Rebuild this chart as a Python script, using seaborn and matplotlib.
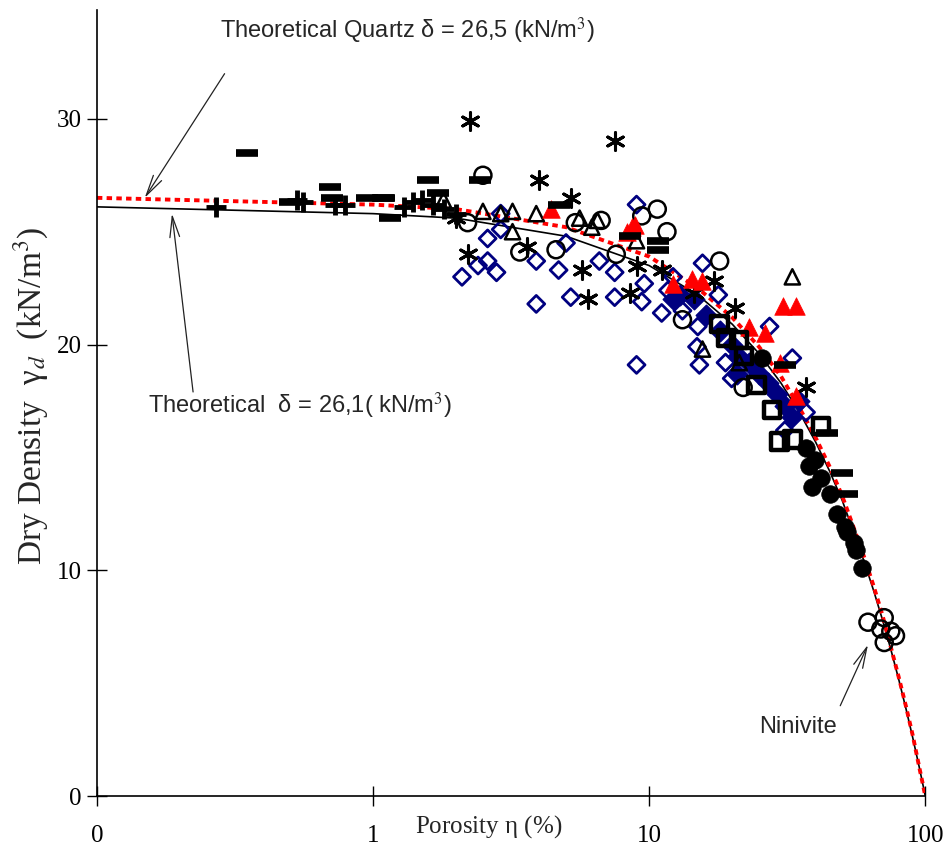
import numpy as np
import pandas as pd
import matplotlib
matplotlib.use("Agg")
import matplotlib.pyplot as plt
import seaborn as sns

# ---- data (porosity %, dry density kN/m3) ----
plus_n = [0.27, 0.53, 0.56, 0.73, 0.79, 1.3, 1.4, 1.5, 1.65, 1.8, 2.0]
plus_y = [26.1, 26.4, 26.3, 26.2, 26.2, 26.1, 26.3, 26.4, 26.2, 26.0, 25.8]

dash_n = [0.35, 0.5, 0.70, 0.71, 0.95, 1.09, 1.1, 1.15, 1.58, 1.72, 2.45, 4.7, 8.5, 10.8, 10.8, 31, 44, 50, 52]
dash_y = [28.5, 26.3, 27.0, 26.5, 26.5, 26.5, 26.5, 25.6, 27.3, 26.7, 27.3, 26.2, 24.8, 24.6, 24.2, 19.1, 16.1, 14.3, 13.4]

star_n = [2.0, 2.2, 2.25, 3.6, 4.0, 5.2, 5.7, 6.0, 7.5, 8.5, 9.0, 11.1, 14.5, 17.1, 20.4, 37]
star_y = [25.6, 24.0, 29.9, 24.3, 27.3, 26.5, 23.3, 22.0, 29.0, 22.3, 23.5, 23.3, 22.3, 22.8, 21.6, 18.1]

tri_n = [1.8, 2.5, 2.9, 3.2, 3.2, 3.9, 5.6, 6.2, 6.5, 9.0, 15.6, 21.2, 33]
tri_y = [26.4, 25.9, 25.8, 25.9, 25.0, 25.8, 25.6, 25.2, 25.5, 24.6, 19.8, 19.2, 23.0]

circ_n = [2.2, 2.5, 3.4, 4.6, 5.4, 6.7, 7.6, 9.4, 10.7, 11.6, 13.2, 18.0, 21.9, 62, 69, 71, 71, 75, 78]
circ_y = [25.4, 27.5, 24.1, 24.2, 25.4, 25.5, 24.0, 25.7, 26.0, 25.0, 21.1, 23.7, 18.1, 7.7, 7.4, 7.9, 6.8, 7.3, 7.1]

diam_n = [2.1, 2.4, 2.6, 2.6, 2.8, 2.9, 2.9, 3.9, 3.9, 4.7, 5.0, 5.2, 6.6, 7.5, 7.5, 9.0, 9.0, 9.4, 9.6,
          11.1, 11.7, 12.2, 13.2, 14.9, 15.0, 15.2, 15.6, 17.8, 18.9, 19.9, 27.3, 31, 33, 37]
diam_y = [23.0, 23.5, 23.7, 24.7, 23.2, 25.1, 25.8, 23.7, 21.8, 23.3, 24.5, 22.1, 23.7, 23.2, 22.1, 26.2, 19.1, 21.9, 22.7,
          21.4, 22.4, 23.0, 21.5, 19.9, 20.8, 19.1, 23.6, 22.2, 19.2, 18.5, 20.8, 16.2, 19.4, 17.0]

fdiam_n = [12.2, 12.9, 14.5, 16, 18, 20, 20.8, 21, 23, 25, 27, 29, 31, 33, 35]
fdiam_y = [22.0, 22.2, 22.0, 21.3, 20.6, 20.0, 18.7, 19.5, 19.2, 18.7, 18.3, 17.8, 17.3, 16.8, 17.5]

red_n = [4.4, 8.3, 8.7, 8.9, 12.2, 14.3, 15.5, 22.9, 26.3, 29.7, 30.5, 34, 34]
red_y = [26.0, 25.0, 25.2, 25.3, 22.7, 22.9, 22.8, 20.8, 20.5, 19.2, 21.7, 21.7, 17.7]

sq_n = [18, 19, 21.2, 22, 24.5, 27.9, 29.6, 33, 42]
sq_y = [20.9, 20.3, 20.2, 19.5, 18.2, 17.1, 15.7, 15.8, 16.4]

fcirc_n = [25.7, 37, 38, 39, 40, 42, 45, 48, 51, 52, 55, 56, 59]
fcirc_y = [19.4, 15.4, 14.6, 13.7, 14.9, 14.1, 13.4, 12.5, 11.9, 11.7, 11.2, 10.9, 10.1]

# theoretical lines
theo_n = [0.1, 1, 2, 5, 10, 15, 20, 25, 30, 35, 40, 45, 50, 55, 60, 65, 70, 75, 80, 85, 90, 95, 100]
quartz_y = [26.5, 26.2, 26.0, 25.2, 23.9, 22.5, 21.2, 19.9, 18.6, 17.2, 15.9, 14.6, 13.3, 11.9, 10.6, 9.3, 8.0, 6.6, 5.3, 4.0, 2.7, 1.3, 0]
theo_y = [26.1, 25.8, 25.6, 24.8, 23.5, 22.2, 20.9, 19.6, 18.3, 17.0, 15.7, 14.4, 13.1, 11.7, 10.4, 9.1, 7.8, 6.5, 5.2, 3.9, 2.6, 1.3, 0]

x_ticks = [0.1, 1, 10, 100]
x_ticklabels = ["0", "1", "10", "100"]
y_ticks = [0, 10, 20, 30]

# ---- plot ----
sns.set_style("ticks")
plt.rcParams['font.family'] = ['Liberation Serif', 'DejaVu Serif']
plt.rcParams['mathtext.fontset'] = 'stix'

fig = plt.figure(figsize=(9.5, 8.52), dpi=100)
ax = fig.add_axes([0.102, 0.0657, 0.872, 0.922])

sns.lineplot(x=theo_n, y=theo_y, ax=ax, color="black", lw=1.2, estimator=None, sort=False, zorder=1)
sns.lineplot(x=theo_n, y=quartz_y, ax=ax, color="red", lw=2.8,
             linestyle=(0, (1.4, 1.1)), estimator=None, sort=False, zorder=2)

navy = "#000080"
sns.scatterplot(x=diam_n, y=diam_y, ax=ax, marker="D", s=75, color=navy,
                facecolors="none", edgecolor=navy, linewidth=2, zorder=3)
sns.scatterplot(x=fdiam_n, y=fdiam_y, ax=ax, marker="D", s=110, color=navy,
                edgecolor=navy, linewidth=1, zorder=3)
sns.scatterplot(x=star_n, y=star_y, ax=ax, marker=(6, 2, 0), s=160, color="black",
                edgecolor="black", linewidth=2.2, zorder=4)
sns.scatterplot(x=tri_n, y=tri_y, ax=ax, marker="^", s=120, color="black",
                facecolors="none", edgecolor="black", linewidth=1.8, zorder=4)
sns.scatterplot(x=circ_n, y=circ_y, ax=ax, marker="o", s=150, color="black",
                facecolors="none", edgecolor="black", linewidth=1.8, zorder=4)
sns.scatterplot(x=red_n, y=red_y, ax=ax, marker="^", s=160, color="red",
                edgecolor="red", linewidth=0.5, zorder=5)
sns.scatterplot(x=sq_n, y=sq_y, ax=ax, marker="s", s=140, color="black",
                facecolors="none", edgecolor="black", linewidth=3.2, zorder=5)
sns.scatterplot(x=fcirc_n, y=fcirc_y, ax=ax, marker="o", s=160, color="black",
                edgecolor="black", linewidth=0.5, zorder=5)
sns.scatterplot(x=plus_n, y=plus_y, ax=ax, marker="+", s=220, color="black",
                edgecolor="black", linewidth=3.5, zorder=6)
sns.scatterplot(x=dash_n, y=dash_y, ax=ax, marker="_", s=260, color="black",
                edgecolor="black", linewidth=5.5, zorder=6)

ax.set_xscale("log")
ax.set_xlim(0.1, 100)
ax.set_ylim(0, 34.8)
ax.set_xticks(x_ticks)
ax.set_xticklabels(x_ticklabels)
ax.minorticks_off()
ax.set_yticks(y_ticks)
ax.tick_params(axis="both", direction="inout", length=14, width=1, labelsize=18, colors="black")
ax.tick_params(axis="x", pad=14)
ax.tick_params(axis="y", pad=4)
sns.despine(ax=ax)
for sp in ["left", "bottom"]:
    ax.spines[sp].set_linewidth(1.2)
    ax.spines[sp].set_color("black")

ax.set_xlabel(r"Porosity $\mathregular{\eta}$ (%)", fontsize=18)
ax.xaxis.set_label_coords(0.473, -0.022)
ax.set_ylabel(r"Dry Density  $\mathregular{\gamma}_{d}$  (kN/m$^{3}$)", fontsize=24)
ax.yaxis.set_label_coords(-0.055, 0.51)

narrow = ['Liberation Sans Narrow', 'Liberation Sans', 'DejaVu Sans']
arrow = dict(arrowstyle="->,head_length=1.5,head_width=0.35", lw=0.9, color="#222222",
             shrinkA=0, shrinkB=0)
ax.text(0.279, 33.9, "Theoretical Quartz δ = 26,5 (kN/m$^3$)", fontsize=17, family=narrow,
        va="center", ha="left")
ax.annotate("", xy=(0.149, 26.5), xytext=(0.29, 32.0), arrowprops=arrow)
ax.text(0.153, 17.3, "Theoretical  δ = 26,1( kN/m$^3$)", fontsize=17, family=narrow,
        va="center", ha="left")
ax.annotate("", xy=(0.187, 25.8), xytext=(0.223, 17.9), arrowprops=arrow)
ax.text(34.7, 3.05, "Ninivite", fontsize=17, family=narrow, va="center", ha="center")
ax.annotate("", xy=(62, 6.7), xytext=(49.2, 4.0), arrowprops=arrow)

fig.savefig("out.png", dpi=100)
